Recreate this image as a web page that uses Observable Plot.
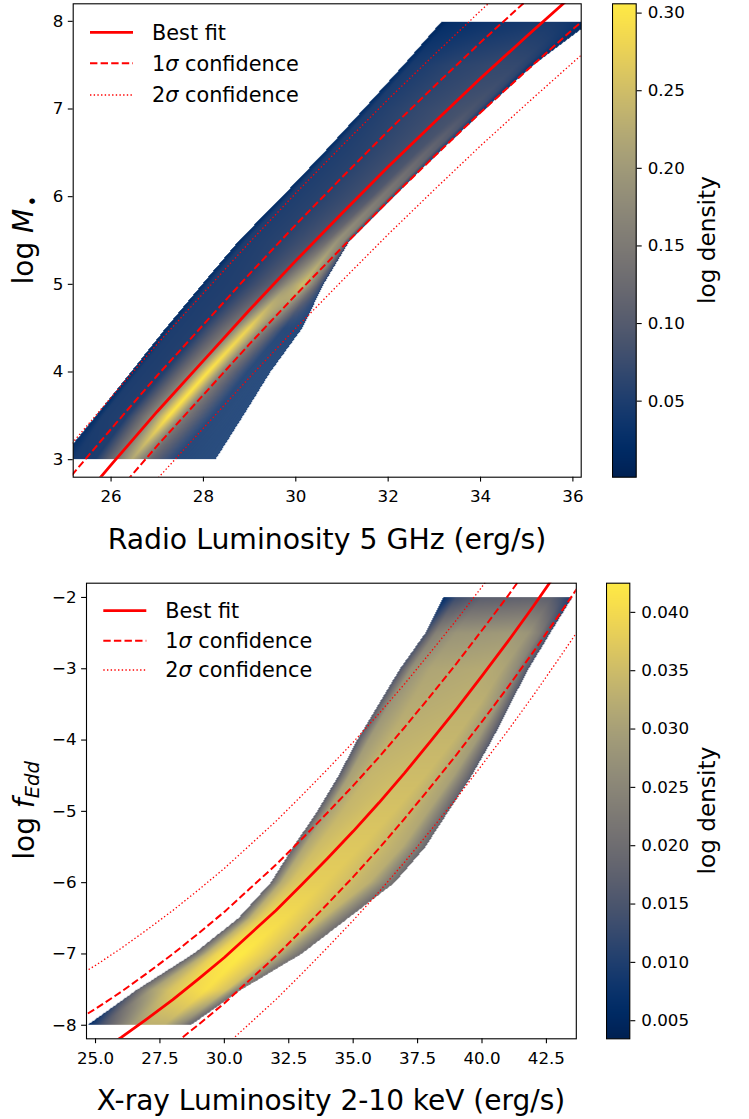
<!DOCTYPE html>
<html><head><meta charset="utf-8">
<script src="https://cdn.jsdelivr.net/npm/d3@7"></script>
<script src="https://cdn.jsdelivr.net/npm/@observablehq/plot@0.6"></script>
<style>
body{margin:0;background:#fff;}
#root{position:relative;width:749px;height:1119px;overflow:hidden;background:#fff;font-family:"DejaVu Sans",sans-serif;}
#root svg{position:absolute;}
</style></head><body><div id="root"></div>
<script>
// ---------------- TOP PANEL: radio luminosity vs log M ----------------
const radioDomain = [25.18, 36.18];
const massDomain = [2.80, 8.20];
const radioTicks = [26, 28, 30, 32, 34, 36];
const massTicks = [3, 4, 5, 6, 7, 8];
const topDensityRange = [0.001, 0.306];
const topBarTicks = [0.05, 0.10, 0.15, 0.20, 0.25, 0.30];

// fit lines (x = log L_R, y = log M)
const radioLineX = [25, 26, 27, 28, 29, 30, 31, 32, 33, 34, 35, 36, 37];
const massFit    = [2.32, 2.94, 3.55, 4.13, 4.71, 5.27, 5.81, 6.34, 6.85, 7.35, 7.83, 8.30, 8.76];
const mass1sHi   = [2.73, 3.35, 3.96, 4.54, 5.12, 5.68, 6.22, 6.75, 7.26, 7.76, 8.24, 8.71, 9.17];
const mass1sLo   = [1.93, 2.55, 3.16, 3.74, 4.32, 4.88, 5.42, 5.95, 6.46, 6.96, 7.44, 7.91, 8.37];
const mass2sHi   = [3.09, 3.71, 4.32, 4.90, 5.48, 6.04, 6.58, 7.11, 7.62, 8.12, 8.60, 9.07, 9.53];
const mass2sLo   = [1.55, 2.17, 2.78, 3.36, 3.94, 4.50, 5.04, 5.57, 6.08, 6.58, 7.06, 7.53, 7.99];

// density band read row by row (y rows, knot x positions, knot densities, knot coverage)
const topRowY = [3.0, 3.5, 4.0, 4.5, 5.0, 5.5, 6.0, 6.5, 7.0, 7.5, 8.0];
const topKnotX = [
  [24.90, 25.20, 25.65, 26.10, 26.45, 26.85, 27.40, 28.26],
  [25.67, 25.82, 26.35, 26.93, 27.25, 27.60, 28.20, 28.86],
  [26.43, 26.58, 27.15, 27.77, 28.10, 28.45, 28.95, 29.45],
  [27.18, 27.33, 27.95, 28.63, 28.98, 29.35, 29.75, 30.14],
  [27.97, 28.12, 28.80, 29.52, 29.85, 30.15, 30.40, 30.60],
  [28.77, 28.92, 29.65, 30.43, 30.70, 30.90, 31.05, 31.17],
  [29.70, 29.85, 30.55, 31.35, 31.65, 31.85, 32.00, 32.12],
  [30.60, 30.75, 31.45, 32.31, 32.60, 32.80, 32.95, 33.09],
  [31.47, 31.62, 32.40, 33.30, 33.60, 33.80, 33.95, 34.10],
  [32.33, 32.48, 33.30, 34.30, 34.60, 34.80, 34.98, 35.14],
  [33.16, 33.31, 34.20, 35.35, 35.65, 35.90, 36.10, 36.40]
];
const topKnotV = [
  [0.030, 0.045, 0.050, 0.140, 0.220, 0.120, 0.035, 0.025],
  [0.020, 0.050, 0.055, 0.180, 0.300, 0.150, 0.040, 0.025],
  [0.020, 0.050, 0.055, 0.170, 0.300, 0.150, 0.040, 0.025],
  [0.020, 0.050, 0.055, 0.150, 0.280, 0.160, 0.045, 0.025],
  [0.020, 0.050, 0.055, 0.110, 0.190, 0.250, 0.150, 0.050],
  [0.020, 0.050, 0.060, 0.090, 0.130, 0.190, 0.170, 0.070],
  [0.020, 0.050, 0.060, 0.080, 0.100, 0.150, 0.140, 0.060],
  [0.020, 0.050, 0.060, 0.080, 0.090, 0.120, 0.110, 0.050],
  [0.020, 0.050, 0.065, 0.080, 0.085, 0.090, 0.080, 0.040],
  [0.020, 0.045, 0.060, 0.070, 0.070, 0.070, 0.060, 0.030],
  [0.012, 0.025, 0.035, 0.045, 0.045, 0.040, 0.035, 0.025]
];
// sparse streaky fringe below the dense ridge at low mass
const topKnotA = [
  [1, 1, 1, 1, 1, 1, 0.9, 0.85],
  [1, 1, 1, 1, 1, 1, 0.9, 0.85],
  [1, 1, 1, 1, 1, 1, 0.9, 0.85],
  [1, 1, 1, 1, 1, 1, 0.92, 0.87],
  [1, 1, 1, 1, 1, 1, 1, 0.95],
  [1, 1, 1, 1, 1, 1, 1, 1],
  [1, 1, 1, 1, 1, 1, 1, 1],
  [1, 1, 1, 1, 1, 1, 1, 1],
  [1, 1, 1, 1, 1, 1, 1, 1],
  [1, 1, 1, 1, 1, 1, 1, 1],
  [1, 1, 1, 1, 1, 1, 1, 1]
];

// ---------------- BOTTOM PANEL: X-ray luminosity vs log f_Edd ----------------
const xrayDomain = [24.65, 43.66];
const eddDomain = [-8.19, -1.80];
const xrayTicks = [25, 27.5, 30, 32.5, 35, 37.5, 40, 42.5];
const eddTicks = [-8, -7, -6, -5, -4, -3, -2];
const botDensityRange = [0.00345, 0.0425];
const botBarTicks = [0.005, 0.010, 0.015, 0.020, 0.025, 0.030, 0.035, 0.040];

const xrayLineX = [24, 25, 26, 27, 28, 29, 30, 31, 32, 33, 34, 35, 36, 37, 38, 39, 40, 41, 42, 43, 44];
const eddFit  = [-8.63, -8.41, -8.17, -7.91, -7.64, -7.35, -7.05, -6.72, -6.39, -6.03, -5.66, -5.28, -4.88, -4.46, -4.02, -3.57, -3.10, -2.62, -2.12, -1.60, -1.07];
const edd1sHi = [-7.99, -7.77, -7.53, -7.27, -7.00, -6.71, -6.41, -6.08, -5.75, -5.39, -5.02, -4.64, -4.24, -3.82, -3.38, -2.93, -2.46, -1.98, -1.48, -0.96, -0.43];
const edd1sLo = [-9.27, -9.05, -8.81, -8.55, -8.28, -7.99, -7.69, -7.36, -7.03, -6.67, -6.30, -5.92, -5.52, -5.10, -4.66, -4.21, -3.74, -3.26, -2.76, -2.24, -1.71];
const edd2sHi = [-7.38, -7.16, -6.92, -6.66, -6.39, -6.10, -5.80, -5.47, -5.14, -4.78, -4.41, -4.03, -3.63, -3.21, -2.77, -2.32, -1.85, -1.37, -0.87, -0.35, 0.18];
const edd2sLo = [-9.88, -9.66, -9.42, -9.16, -8.89, -8.60, -8.30, -7.97, -7.64, -7.28, -6.91, -6.53, -6.13, -5.71, -5.27, -4.82, -4.35, -3.87, -3.37, -2.85, -2.32];

const botRowY = [-8.0, -7.5, -7.0, -6.5, -6.0, -5.5, -5.0, -4.5, -4.0, -3.5, -3.0, -2.5, -2.0];
const botKnotX = [
  [24.68, 25.20, 26.36, 27.00, 27.65, 28.30, 28.69],
  [26.61, 27.20, 27.90, 28.49, 29.30, 30.10, 30.66],
  [28.79, 29.30, 29.70, 30.14, 30.70, 31.90, 32.99],
  [30.54, 31.00, 31.30, 31.67, 32.40, 33.80, 34.80],
  [31.80, 32.20, 32.60, 33.09, 33.90, 35.60, 36.61],
  [32.67, 33.10, 33.60, 34.43, 35.30, 36.90, 37.80],
  [33.60, 34.00, 34.60, 35.69, 36.60, 37.90, 38.70],
  [34.43, 34.85, 35.60, 36.90, 37.80, 38.90, 39.60],
  [35.15, 35.60, 36.40, 38.05, 38.90, 39.80, 40.39],
  [35.98, 36.40, 37.20, 39.15, 39.90, 40.60, 41.09],
  [36.82, 37.25, 38.00, 40.22, 40.80, 41.35, 41.81],
  [37.80, 38.20, 39.00, 41.24, 41.80, 42.25, 42.65],
  [38.50, 39.00, 40.00, 42.23, 42.70, 43.10, 43.50]
];
const botKnotV = [
  [0.006, 0.014, 0.028, 0.033, 0.033, 0.025, 0.018],
  [0.018, 0.030, 0.036, 0.039, 0.041, 0.036, 0.020],
  [0.018, 0.033, 0.039, 0.042, 0.0425, 0.036, 0.020],
  [0.018, 0.033, 0.037, 0.040, 0.040, 0.034, 0.020],
  [0.018, 0.032, 0.036, 0.038, 0.038, 0.033, 0.020],
  [0.018, 0.031, 0.035, 0.037, 0.037, 0.032, 0.019],
  [0.017, 0.030, 0.034, 0.036, 0.036, 0.031, 0.018],
  [0.016, 0.030, 0.034, 0.035, 0.035, 0.030, 0.017],
  [0.016, 0.029, 0.033, 0.034, 0.034, 0.029, 0.016],
  [0.016, 0.028, 0.032, 0.033, 0.033, 0.028, 0.016],
  [0.015, 0.027, 0.031, 0.032, 0.031, 0.026, 0.015],
  [0.014, 0.024, 0.028, 0.029, 0.028, 0.023, 0.014],
  [0.006, 0.013, 0.017, 0.018, 0.017, 0.014, 0.010]
];

// ---------------- helpers ----------------
const FONT = '"DejaVu Sans", sans-serif';
const RED = "#ff0000";
const root = document.getElementById("root");

// field sampled by Plot.raster: neighbouring rows are blended along the band
function bandField(rowsY, knotX, knotV) {
  const n = rowsY.length;
  return (x, y) => {
    if (!(y >= rowsY[0] && y <= rowsY[n - 1])) return NaN;
    let i = d3.bisectRight(rowsY, y) - 1;
    if (i > n - 2) i = n - 2;
    const t = (y - rowsY[i]) / (rowsY[i + 1] - rowsY[i]);
    const xs = knotX[i].map((a, k) => a + t * (knotX[i + 1][k] - a));
    const vs = knotV[i].map((a, k) => a + t * (knotV[i + 1][k] - a));
    if (x < xs[0] || x > xs[xs.length - 1]) return NaN;
    let k = d3.bisectRight(xs, x) - 1;
    if (k > xs.length - 2) k = xs.length - 2;
    const s = (x - xs[k]) / (xs[k + 1] - xs[k]);
    return vs[k] + s * (vs[k + 1] - vs[k]);
  };
}
const pairs = (xs, ys) => xs.map((x, i) => [x, ys[i]]);
const lineStyles = {
  fit: {stroke: RED, strokeWidth: 2.8, strokeLinecap: "butt"},
  s1: {stroke: RED, strokeWidth: 2.0, strokeDasharray: "7.4,3.2", strokeLinecap: "butt"},
  s2: {stroke: RED, strokeWidth: 1.3, strokeDasharray: "1.39,2.29", strokeLinecap: "butt"}
};

function mainPlot(cfg) {
  const rasterOpts = {fill: bandField(cfg.rowY, cfg.knotX, cfg.knotV), x1: cfg.xd[0], x2: cfg.xd[1], y1: cfg.yd[0], y2: cfg.yd[1], pixelSize: 1};
  if (cfg.knotA) {
    const op = bandField(cfg.rowY, cfg.knotX, cfg.knotA);
    rasterOpts.fillOpacity = (x, y) => { const a = op(x, y); return isNaN(a) ? 0 : a; };
  }
  return Plot.plot({
    width: 749, height: cfg.height,
    marginLeft: cfg.ml, marginRight: cfg.mr, marginTop: cfg.mt, marginBottom: cfg.mb,
    x: {domain: cfg.xd}, y: {domain: cfg.yd},
    color: {type: "linear", scheme: "cividis", domain: cfg.cd},
    style: {fontFamily: FONT, background: "transparent", color: "black"},
    marks: [
      Plot.raster(rasterOpts),
      Plot.line(pairs(cfg.lx, cfg.s2Hi), {...lineStyles.s2, clip: true}),
      Plot.line(pairs(cfg.lx, cfg.s2Lo), {...lineStyles.s2, clip: true}),
      Plot.line(pairs(cfg.lx, cfg.s1Hi), {...lineStyles.s1, clip: true}),
      Plot.line(pairs(cfg.lx, cfg.s1Lo), {...lineStyles.s1, clip: true}),
      Plot.line(pairs(cfg.lx, cfg.fit), {...lineStyles.fit, clip: true}),
      Plot.axisX({ticks: cfg.xt, tickFormat: cfg.xf, tickSize: 4.9, tickPadding: 8.5, fontSize: 16.7, label: null, strokeWidth: 1.1}),
      Plot.axisY({ticks: cfg.yt, tickFormat: "d", tickSize: 4.9, tickPadding: 5, fontSize: 16.7, label: null, strokeWidth: 1.1}),
      Plot.frame({stroke: "black", strokeWidth: 1.1})
    ]
  });
}
function colorBar(cfg) {
  return Plot.plot({
    width: 130, height: cfg.height,
    marginLeft: 0, marginRight: 130 - cfg.w, marginTop: cfg.mt, marginBottom: cfg.mb,
    x: {domain: [0, 1], axis: null}, y: {domain: cfg.cd},
    color: {type: "linear", scheme: "cividis", domain: cfg.cd},
    style: {fontFamily: FONT, background: "transparent", color: "black"},
    marks: [
      Plot.raster({fill: (x, y) => y, x1: 0, x2: 1, y1: cfg.cd[0], y2: cfg.cd[1], pixelSize: 1}),
      Plot.axisY({anchor: "right", ticks: cfg.ticks, tickFormat: cfg.fmt, tickSize: 5, tickPadding: 6.5, fontSize: 16.7, label: null, strokeWidth: 1.1}),
      Plot.frame({stroke: "black", strokeWidth: 1.1})
    ]
  });
}
function put(svg, left, top) {
  svg.style.left = left + "px"; svg.style.top = top + "px";
  root.appendChild(svg);
}

// ---------------- build ----------------
put(mainPlot({height: 540, ml: 72.7, mr: 168.3, mt: 3.3, mb: 63.3,
  xd: radioDomain, yd: massDomain, cd: topDensityRange,
  rowY: topRowY, knotX: topKnotX, knotV: topKnotV, knotA: topKnotA,
  lx: radioLineX, fit: massFit, s1Hi: mass1sHi, s1Lo: mass1sLo, s2Hi: mass2sHi, s2Lo: mass2sLo,
  xt: radioTicks, xf: "d", yt: massTicks}), 0, 0);
put(colorBar({height: 540, w: 23.7, mt: 3.3, mb: 63.3, cd: topDensityRange, ticks: topBarTicks, fmt: ".2f"}), 612.3, 0);

put(mainPlot({height: 559, ml: 86, mr: 173.2, mt: 22.7, mb: 80.7,
  xd: xrayDomain, yd: eddDomain, cd: botDensityRange,
  rowY: botRowY, knotX: botKnotX, knotV: botKnotV,
  lx: xrayLineX, fit: eddFit, s1Hi: edd1sHi, s1Lo: edd1sLo, s2Hi: edd2sHi, s2Lo: edd2sLo,
  xt: xrayTicks, xf: ".1f", yt: eddTicks}), 0, 560);
put(colorBar({height: 559, w: 23.3, mt: 22.7, mb: 80.7, cd: botDensityRange, ticks: botBarTicks, fmt: ".3f"}), 606, 560);

// ---------------- labels and legends (text overlay) ----------------
function legend(x0, rows) {
  const labels = [["Best fit", "fit"], ["1", "s1"], ["2", "s2"]];
  return labels.map(([lab, key], i) => {
    const st = lineStyles[key];
    const y = rows[i];
    const line = `<line x1="${x0}" x2="${x0 + 43}" y1="${y}" y2="${y}" stroke="${st.stroke}" stroke-width="${st.strokeWidth}" ${st.strokeDasharray ? `stroke-dasharray="${st.strokeDasharray}"` : ""} stroke-linecap="butt"/>`;
    const txt = key === "fit" ? "Best fit" : `${lab}<tspan font-style="italic">σ</tspan> confidence`;
    return line + `<text x="${x0 + 62}" y="${y + 7.3}" font-size="20.8">${txt}</text>`;
  }).join("");
}
const ov = document.createElementNS("http://www.w3.org/2000/svg", "svg");
ov.setAttribute("width", 749); ov.setAttribute("height", 1119);
ov.style.left = "0px"; ov.style.top = "0px"; ov.style.pointerEvents = "none";
ov.setAttribute("font-family", FONT);
ov.innerHTML = `
  ${legend(90, [32.3, 63.3, 95])}
  ${legend(103.3, [610.7, 640.7, 670])}
  <text x="327" y="549" font-size="28.3" text-anchor="middle">Radio Luminosity 5 GHz (erg/s)</text>
  <text x="331" y="1110" font-size="28" text-anchor="middle">X-ray Luminosity 2-10 keV (erg/s)</text>
  <text transform="translate(33,240) rotate(-90)" font-size="28" text-anchor="middle">log <tspan font-style="italic">M</tspan><tspan font-size="19" dx="2" dy="6">•</tspan></text>
  <text transform="translate(34,810.5) rotate(-90)" font-size="28" text-anchor="middle">log <tspan font-style="italic">f</tspan><tspan font-style="italic" font-size="19.5" dy="5">Edd</tspan></text>
  <text transform="translate(715,240) rotate(-90)" font-size="23.2" text-anchor="middle">log density</text>
  <text transform="translate(715,810.5) rotate(-90)" font-size="23.2" text-anchor="middle">log density</text>
`;
root.appendChild(ov);
</script></body></html>
